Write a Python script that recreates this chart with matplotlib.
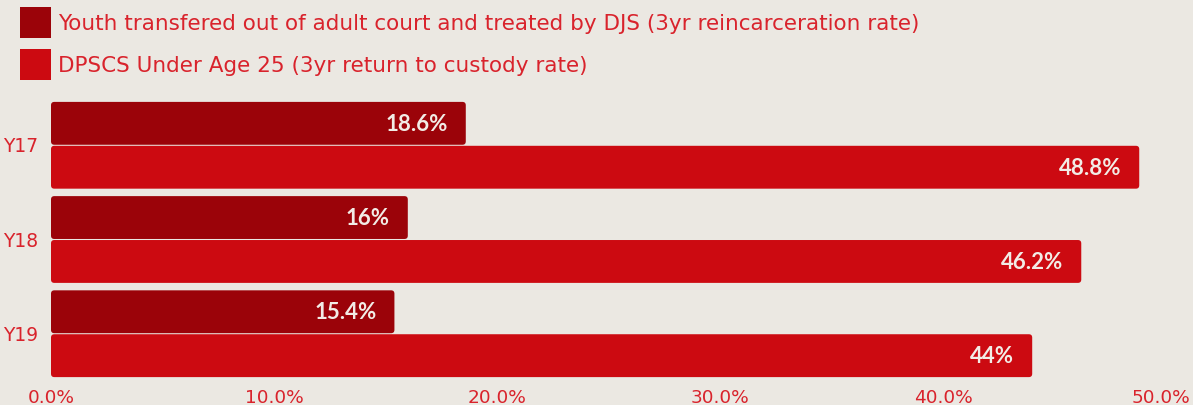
import matplotlib.pyplot as plt
from matplotlib.patches import FancyBboxPatch
from matplotlib.transforms import ScaledTranslation
import numpy as np

years = ["Y17", "Y18", "Y19"]
djs_rate = [18.6, 16.0, 15.4]
dpscs_rate = [48.8, 46.2, 44.0]
djs_labels = ["18.6%", "16%", "15.4%"]
dpscs_labels = ["48.8%", "46.2%", "44%"]
series_names = [
    "Youth transfered out of adult court and treated by DJS (3yr reincarceration rate)",
    "DPSCS Under Age 25 (3yr return to custody rate)",
]
xticks = [0, 10, 20, 30, 40, 50]

bg = "#EBE8E2"
dark = "#9B0309"
red = "#CC0A11"
txt = "#D9232C"
white = "#F2ECE6"

plt.rcParams["font.family"] = ["DejaVu Sans"]

fig = plt.figure(figsize=(11.93, 4.06), dpi=100, facecolor=bg)
W, H = 1193, 406
ax = fig.add_axes([51 / W, 1 - 379 / H, (1166 - 51) / W, (379 - 102) / H])
ax.set_facecolor(bg)

y = np.arange(len(years))
off = 0.233
h = 0.455
b1 = ax.barh(y - off, djs_rate, height=h, color=dark)
b2 = ax.barh(y + off, dpscs_rate, height=h, color=red)

ax.set_xlim(0, 50)
ax.set_ylim(2.47, -0.47)

# swap rectangles for slightly rounded ones
asp = (2.94 / 277) / (50 / 1115)
for bars in (b1, b2):
    for r in bars:
        x0, y0 = r.get_x(), r.get_y()
        w, hh = r.get_width(), r.get_height()
        p = FancyBboxPatch((x0, y0), w, hh,
                           boxstyle="round,pad=0,rounding_size=0.15",
                           mutation_aspect=asp, fc=r.get_facecolor(), ec="none")
        r.set_visible(False)
        ax.add_patch(p)

for bars, labs in ((b1, djs_labels), (b2, dpscs_labels)):
    for r, lab in zip(bars, labs):
        ax.text(r.get_width() - 0.8, r.get_y() + r.get_height() / 2, lab,
                ha="right", va="center", color=white, fontsize=16,
                fontweight="bold", family=["Lato", "DejaVu Sans"])

for s in ax.spines.values():
    s.set_visible(False)
ax.set_xticks(xticks)
ax.set_xticklabels([f"{t:.1f}%" for t in xticks])
ax.set_yticks([])
ax.tick_params(axis="x", length=0, pad=7, labelsize=13.3, labelcolor=txt)
# keep the last tick label inside the canvas
last = ax.get_xticklabels()[-1]
last.set_transform(last.get_transform() + ScaledTranslation(-0.05, 0, fig.dpi_scale_trans))

for i, lab in enumerate(years):
    ax.text(38 / W, 1 - (147 + 94.5 * i) / H, lab, transform=fig.transFigure,
            ha="right", va="center", color=txt, fontsize=13.5)

# legend
for k, (name, col) in enumerate(zip(series_names, [dark, red])):
    top = 8 + 42 * k
    fig.patches.append(plt.Rectangle((20 / W, 1 - (top + 31) / H), 31 / W, 31 / H,
                                     transform=fig.transFigure, fc=col, ec="none"))
    fig.text(58 / W, 1 - (top + 15.5) / H, name, ha="left", va="center",
             color=txt, fontsize=15.5)

fig.savefig("out.png", dpi=100, facecolor=bg)
